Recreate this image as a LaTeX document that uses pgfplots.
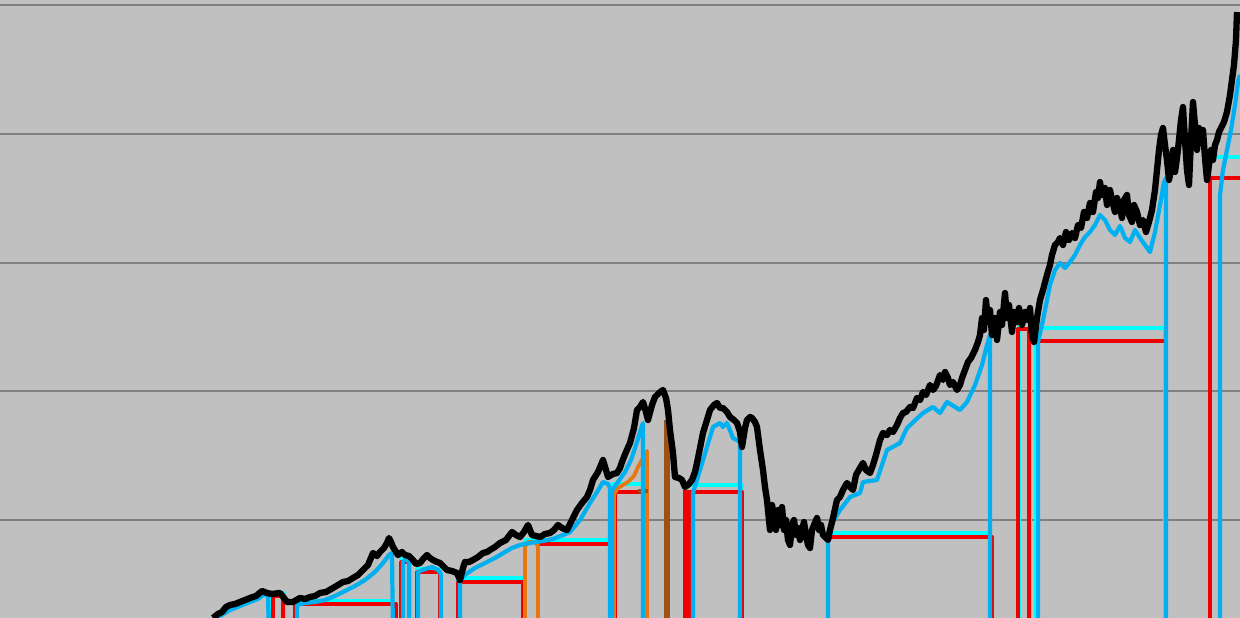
\documentclass[border=0pt]{standalone}
\usepackage{pgfplots}
\pgfplotsset{compat=1.18}
\definecolor{bgc}{RGB}{192,192,192}
\definecolor{sblue}{RGB}{0,176,240}
\definecolor{scyan}{RGB}{0,255,255}
\definecolor{sred}{RGB}{240,0,0}
\definecolor{sorange}{RGB}{230,120,20}
\definecolor{sbrown}{RGB}{155,82,20}
\begin{document}
\begin{tikzpicture}
\begin{axis}[
  width=12.4cm, height=6.18cm, scale only axis,
  xmin=0, xmax=1240, ymin=0, ymax=618, y dir=reverse,
  axis line style={draw=none}, tick style={draw=none},
  xtick=\empty, ytick={5,134,263,391,520}, yticklabels={},
  ymajorgrids, grid style={color=gray, line width=0.3pt},
  axis background/.style={fill=bgc},
  clip=true,
  every axis plot/.append style={no marks, line join=round, line cap=butt},
]
% cyan
\addplot[scyan, line width=1.1pt] coordinates {(272,640)(272,593)(284,593)(284,640)};
\addplot[scyan, line width=1.1pt] coordinates {(297,640)(297,601)(393,601)(393,640)};
\addplot[scyan, line width=1.1pt] coordinates {(401,640)(401,559)(410,559)(410,640)};
\addplot[scyan, line width=1.1pt] coordinates {(417,640)(417,569)(440,569)(440,640)};
\addplot[scyan, line width=1.1pt] coordinates {(458,640)(458,578)(523,578)(523,640)};
\addplot[scyan, line width=1.1pt] coordinates {(525,640)(525,540)(610,540)(610,640)};
\addplot[scyan, line width=1.1pt] coordinates {(612,640)(612,484)(645,484)(645,640)};
\addplot[scyan, line width=1.1pt] coordinates {(685,640)(685,485)(742,485)(742,640)};
\addplot[scyan, line width=1.1pt] coordinates {(828,640)(828,533)(990,533)(990,640)};
\addplot[scyan, line width=1.1pt] coordinates {(1019,640)(1019,316)(1030,316)(1030,640)};
\addplot[scyan, line width=1.1pt] coordinates {(1036,640)(1036,328)(1165,328)(1165,640)};
\addplot[scyan, line width=1.1pt] coordinates {(1210,640)(1210,157)(1245,157)};
% red
\addplot[sred, line width=1.1pt] coordinates {(273,640)(273,596)(283,596)(283,640)};
\addplot[sred, line width=1.1pt] coordinates {(295,640)(295,604)(396,604)(396,640)};
\addplot[sred, line width=1.1pt] coordinates {(401,640)(401,562)(409,562)(409,640)};
\addplot[sred, line width=1.1pt] coordinates {(417,640)(417,572)(440,572)(440,640)};
\addplot[sred, line width=1.1pt] coordinates {(458,640)(458,582)(523,582)(523,640)};
\addplot[sred, line width=1.1pt] coordinates {(538,640)(538,544)(610,544)(610,640)};
\addplot[sred, line width=1.1pt] coordinates {(615,640)(615,492)(645,492)(645,640)};
\addplot[sred, line width=2.6pt] coordinates {(688,640)(688,490)};
\addplot[sred, line width=1.1pt] coordinates {(691,492)(742,492)(742,640)};
\addplot[sred, line width=1.1pt] coordinates {(828,640)(828,537)(992,537)(992,640)};
\addplot[sred, line width=1.1pt] coordinates {(1018,640)(1018,329)(1029,329)(1029,640)};
\addplot[sred, line width=1.1pt] coordinates {(1038,640)(1038,341)(1166,341)(1166,640)};
\addplot[sred, line width=1.1pt] coordinates {(1210,640)(1210,178)(1245,178)};
% orange
\addplot[sorange, line width=1.1pt] coordinates {(525,640)(525,546)(528,542)(535,542)(538,546)(538,640)};
\addplot[sorange, line width=1.1pt] coordinates {(614,640)(614,494)(618,488)(628,482)(634,476)(638,467)(642,460)(647,451)(647,640)};
% brown
\addplot[sbrown, line width=1.1pt] coordinates {(638,491)(648,491)};
\addplot[sbrown, line width=1.6pt] coordinates {(667,640)(667,420)};
% blue
\addplot[sblue, line width=1.2pt] coordinates {(213,620)(220,616)(230,610)(240,606)(250,602)(258,599)(263,595)(268,594)(269,640)};
\addplot[sblue, line width=1.2pt] coordinates {(297,640)(297,605)(305,603)(315,602)(325,600)(335,596)(345,591)(355,586)(365,580)(375,572)(383,563)(389,555)(392,553)(393,640)};
\addplot[sblue, line width=1.2pt] coordinates {(403,640)(403,562)(406,559)(409,562)(409,640)};
\addplot[sblue, line width=1.2pt] coordinates {(418,640)(418,572)(425,569)(432,567)(438,570)(441,574)(441,640)};
\addplot[sblue, line width=1.2pt] coordinates {(460,640)(460,580)(466,574)(475,568)(485,563)(495,558)(505,552)(512,548)(520,545)(530,543)(543,541)(553,539)(563,535)(570,532)(580,520)(590,503)(597,492)(603,482)(608,484)(610,488)(610,640)};
\addplot[sblue, line width=1.2pt] coordinates {(612,640)(612,490)(618,482)(625,472)(631,460)(636,445)(640,432)(643,423)(643,640)};
\addplot[sblue, line width=1.2pt] coordinates {(693,640)(693,493)(700,470)(707,447)(713,427)(720,423)(723,427)(727,423)(733,438)(740,442)(740,640)};
\addplot[sblue, line width=1.2pt] coordinates {(828,640)(828,533)(834,520)(840,510)(850,497)(860,493)(863,482)(877,480)(887,450)(900,443)(907,428)(923,413)(933,407)(940,413)(947,402)(960,410)(967,402)(975,385)(982,365)(987,345)(990,335)(990,640)};
\addplot[sblue, line width=1.2pt] coordinates {(1038,640)(1038,342)(1042,325)(1046,305)(1050,285)(1055,270)(1060,263)(1065,268)(1070,262)(1075,255)(1080,245)(1085,237)(1090,232)(1095,225)(1100,215)(1105,220)(1110,230)(1115,235)(1120,226)(1125,238)(1130,242)(1135,230)(1140,238)(1145,245)(1150,252)(1155,232)(1160,205)(1164,182)(1166,178)(1166,640)};
\addplot[sblue, line width=1.2pt] coordinates {(1220,640)(1220,195)(1223,170)(1227,150)(1231,130)(1235,105)(1238,82)(1240,75)};
% black
\addplot[black, line width=1.8pt] coordinates {
(213,618)(218,614)(222,612)(226,607)(230,605)(235,604)(240,602)(245,600)(250,598)(256,596)(262,591)(267,593)(272,594)(280,593)(284,598)(287,602)(293,602)(300,598)(305,599)(310,597)(315,596)(320,593)(326,592)(333,588)(338,585)(343,582)(348,581)(353,578)(358,575)(363,570)(368,565)(373,553)(377,556)(380,552)(384,548)(387,543)(389,538)(391,542)(393,547)(398,555)(402,552)(405,555)(409,556)(413,560)(416,564)(420,563)(424,558)(427,555)(430,558)(433,560)(437,562)(440,563)(444,567)(447,570)(452,571)(457,573)(460,580)(463,568)(465,562)(469,562)(473,560)(478,557)(483,553)(487,552)(490,550)(495,547)(500,543)(506,540)(512,532)(516,535)(520,537)(524,532)(528,525)(530,530)(532,535)(536,536)(540,537)(545,534)(550,533)(554,530)(558,525)(562,528)(567,530)(572,520)(577,510)(582,503)(587,497)(590,490)(593,480)(598,472)(603,460)(606,470)(608,477)(613,474)(617,473)(620,468)(622,462)(626,452)(630,443)(634,428)(637,410)(640,407)(643,402)(646,412)(648,420)(652,405)(655,397)(659,393)(663,390)(666,398)(668,410)(670,430)(673,453)(675,477)(679,478)(682,480)(685,487)(689,484)(692,480)(695,472)(697,463)(700,448)(703,433)(707,420)(710,410)(714,405)(717,403)(720,408)(723,408)(727,412)(730,417)(734,420)(737,423)(740,432)(742,447)(745,428)(747,420)(750,417)(752,418)(755,422)(757,427)(760,450)(763,470)(765,487)(767,500)(769,520)(770,530)(772,505)(774,515)(776,530)(778,510)(780,525)(782,507)(784,530)(786,520)(788,540)(790,545)(792,525)(794,520)(796,535)(798,528)(800,540)(802,530)(804,522)(806,535)(808,545)(810,548)(812,530)(814,525)(817,518)(819,530)(821,525)(823,535)(826,538)(828,540)(830,530)(833,518)(837,500)(840,497)(843,490)(847,483)(850,487)(853,490)(856,475)(860,468)(863,463)(866,470)(870,473)(873,465)(876,455)(880,440)(883,433)(887,435)(890,430)(893,432)(897,425)(900,418)(903,413)(906,412)(910,407)(913,408)(917,398)(920,400)(923,392)(926,395)(930,385)(933,390)(936,386)(940,375)(943,380)(945,372)(948,378)(950,385)(953,382)(957,390)(960,385)(962,378)(965,370)(968,362)(971,358)(975,350)(978,342)(980,335)(982,318)(984,330)(986,300)(988,322)(990,310)(992,335)(995,318)(997,340)(1000,312)(1002,325)(1005,293)(1007,318)(1009,305)(1012,332)(1014,312)(1017,322)(1019,308)(1022,325)(1025,312)(1028,320)(1030,308)(1032,335)(1034,342)(1037,318)(1040,300)(1043,290)(1047,275)(1050,265)(1052,255)(1055,245)(1058,242)(1060,238)(1063,245)(1066,232)(1069,240)(1072,233)(1075,238)(1078,225)(1081,228)(1084,212)(1087,218)(1090,203)(1093,212)(1096,192)(1098,198)(1100,182)(1102,195)(1105,188)(1107,205)(1110,190)(1112,200)(1115,212)(1117,198)(1120,208)(1122,218)(1124,200)(1127,195)(1129,215)(1132,222)(1134,205)(1137,212)(1140,225)(1143,220)(1146,232)(1149,222)(1152,210)(1155,190)(1157,170)(1159,150)(1161,135)(1163,128)(1165,145)(1167,160)(1169,180)(1171,170)(1173,150)(1175,172)(1177,158)(1179,140)(1181,120)(1183,107)(1185,140)(1187,170)(1189,185)(1191,140)(1193,102)(1195,125)(1197,150)(1199,128)(1201,140)(1203,130)(1205,158)(1207,180)(1209,165)(1211,150)(1213,160)(1215,145)(1217,140)(1219,132)(1221,128)(1224,122)(1227,112)(1230,95)(1232,80)(1234,65)(1236,40)(1237,12)};
\end{axis}
\pgfresetboundingbox
\path (current axis.south west) rectangle (current axis.north east);
\end{tikzpicture}
\end{document}
